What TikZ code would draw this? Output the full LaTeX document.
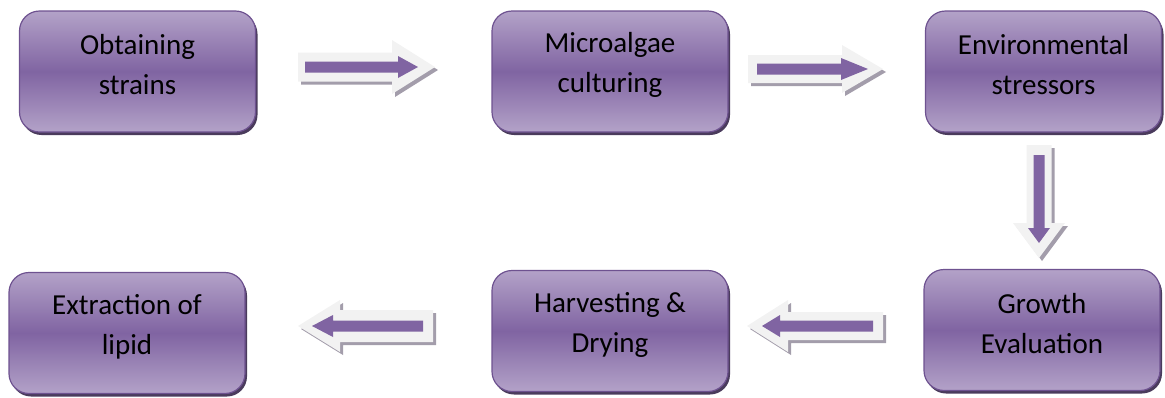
\documentclass[tikz,border=0pt]{standalone}
\usepackage{fontspec}
\setmainfont{Carlito}
\usetikzlibrary{shadows}
\definecolor{lightpurple}{HTML}{B3A2C8}
\definecolor{darkpurple}{HTML}{8064A2}
\definecolor{boxborder}{HTML}{6E5290}
\definecolor{boxshadow}{HTML}{4A3B5C}
\definecolor{arrowfill}{HTML}{F2F2F2}
\definecolor{arrowshadow}{HTML}{A39DAB}
\definecolor{arrowcore}{HTML}{8064A2}
\tikzset{
  stepbox/.style={rounded corners=20pt, minimum width=236pt, minimum height=121pt,
    draw=boxborder, line width=1.2pt, top color=lightpurple, bottom color=lightpurple,
    middle color=darkpurple,
    general shadow={fill=boxshadow, shadow xshift=2pt, shadow yshift=-3pt}},
  steptext/.style={align=center, text=black, yshift=6.5pt,
    font=\fontsize{29}{40}\selectfont},
  arrowbody/.style={fill=arrowfill},
  arrowshade/.style={fill=arrowshadow},
  arrowinner/.style={fill=arrowcore}
}
% #1 centre, #2 rotation, #3 half length, #4 shaft half width, #5 head half width,
% #6 head base, #7 inner tail, #8 inner head base, #9 inner tip
\newcommand\blockarrow[9]{%
  \begin{scope}[shift={(#1)}, xshift=3pt, yshift=-3pt, rotate=#2]
    \path[arrowshade] (-#3,-#4) -- (#6,-#4) -- (#6,-#5) -- (#3,0) -- (#6,#5) -- (#6,#4) -- (-#3,#4) -- cycle;
  \end{scope}
  \begin{scope}[shift={(#1)}, rotate=#2]
    \path[arrowbody] (-#3,-#4) -- (#6,-#4) -- (#6,-#5) -- (#3,0) -- (#6,#5) -- (#6,#4) -- (-#3,#4) -- cycle;
    \path[arrowinner] (#7,-5.5) -- (#8,-5.5) -- (#8,-11) -- (#9,0) -- (#8,11) -- (#8,5.5) -- (#7,5.5) -- cycle;
  \end{scope}}
\begin{document}
\begin{tikzpicture}[x=1pt, y=-1pt]
  \useasboundingbox (0,0) rectangle (1165,397);
  \node[stepbox, label={[steptext]center:{Obtaining\\strains}}] (n1) at (137.5,71.5) {};
  \node[stepbox, label={[steptext]center:{Microalgae\\culturing}}] (n2) at (610,71.5) {};
  \node[stepbox, label={[steptext]center:{Environmental\\stressors}}] (n3) at (1043.5,71.5) {};
  \node[stepbox, label={[steptext]center:{Growth\\Evaluation}}] (n4) at (1042,330) {};
  \node[stepbox, label={[steptext]center:{Harvesting \&\\Drying}}] (n5) at (610,331) {};
  \node[stepbox, label={[steptext]center:{Extraction of\\lipid}}] (n6) at (127,333) {};
  \blockarrow{366.5,67}{0}{68.5}{14.5}{27}{25.5}{-61.5}{31.5}{51.5}
  \blockarrow{815.5,69}{0}{67.5}{14}{24}{26.5}{-58.5}{25.5}{52.5}
  \blockarrow{1039,201.5}{-90}{56.5}{12.5}{26}{21.5}{-46.5}{26.5}{41.5}
  \blockarrow{815,326}{180}{68}{14}{26}{27}{-58}{35}{53}
  \blockarrow{365.5,326}{180}{67.5}{16}{26}{25.5}{-57.5}{32.5}{53.5}
\end{tikzpicture}
\end{document}
